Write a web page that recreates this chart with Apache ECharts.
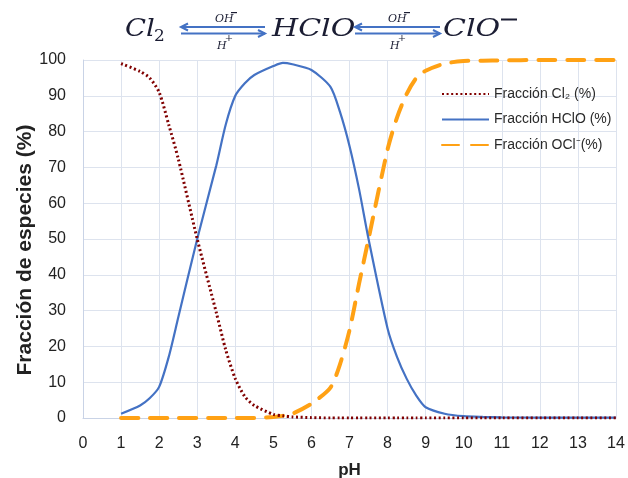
<!DOCTYPE html>
<html>
<head>
<meta charset="utf-8">
<script src="https://cdn.jsdelivr.net/npm/echarts@6/dist/echarts.min.js"></script>
<style>
html,body{margin:0;padding:0;background:#fff;}
#c{width:628px;height:478px;}
</style>
</head>
<body>
<div id="c"></div>
<script>
// ---- data ----
var phValues   = [1, 1.5, 1.75, 2, 2.25, 2.5, 3, 3.5, 3.75, 4, 4.25, 4.5, 5, 5.25, 5.5, 6, 6.5, 6.75, 7, 7.25, 7.5, 8, 8.25, 8.5, 8.75, 9, 9.5, 10, 10.5, 11, 12, 13, 14];
var cl2Values  = [99.0, 96.8, 95.0, 91.0, 82.0, 72.5, 50.0, 29.5, 19.0, 11.0, 6.0, 3.5, 1.0, 0.6, 0.3, 0.1, 0, 0, 0, 0, 0, 0, 0, 0, 0, 0, 0, 0, 0, 0, 0, 0, 0];
var hcloValues = [1.2, 3.5, 5.5, 8.7, 17.0, 28.0, 50.0, 70.5, 82.0, 90.0, 93.5, 95.8, 98.3, 99.2, 98.8, 97.2, 92.5, 85.5, 76.0, 64.0, 50.0, 25.0, 17.0, 11.0, 6.3, 3.0, 1.2, 0.5, 0.3, 0.2, 0.1, 0.1, 0.1];
var oclValues  = [0, 0, 0, 0, 0, 0, 0, 0, 0, 0, 0, 0, 0.3, 0.6, 1.2, 4.0, 8.5, 15.0, 24.5, 37.5, 50.0, 75.0, 84.0, 90.5, 94.9, 97.0, 99.0, 99.7, 99.8, 99.9, 100, 100, 100];
var xTicks = [0, 1, 2, 3, 4, 5, 6, 7, 8, 9, 10, 11, 12, 13, 14];
var yTicks = [0, 10, 20, 30, 40, 50, 60, 70, 80, 90, 100];
var seriesNames = ['Fracción Cl₂ (%)', 'Fracción HClO (%)', 'Fracción OCl⁻(%)'];

function pairs(ys) { return phValues.map(function (x, i) { return [x, ys[i]]; }); }

var chart = echarts.init(document.getElementById('c'), null, {renderer: 'canvas'});

var eqColor = '#1b1d33';
var arrowColor = '#4472C4';
var serif = '"DejaVu Serif", "Liberation Serif", serif';
var sans = '"Liberation Sans", Arial, sans-serif';

function txt(s, x, y, size, italic, align, sx) {
  return {
    type: 'text', x: x, y: y, scaleX: sx || 1,
    style: {
      text: s, fill: eqColor,
      font: (italic ? 'italic ' : '') + size + 'px ' + serif,
      align: align || 'left', verticalAlign: 'middle'
    }
  };
}
function line(pts) {
  return { type: 'polyline', shape: { points: pts }, style: { stroke: arrowColor, lineWidth: 2, fill: null } };
}
function arrows(x1, x2) {
  var yt = 27, yb = 33.5;
  return [
    line([[x1, yt], [x2, yt]]),
    line([[x1 + 7, yt - 3.5], [x1, yt], [x1 + 7, yt + 3.5]]),
    line([[x1, yb], [x2, yb]]),
    line([[x2 - 7, yb - 3.5], [x2, yb], [x2 - 7, yb + 3.5]])
  ];
}

var graphics = [].concat(
  [txt('Cl', 125, 29.5, 25, true, 'left', 1.1),
   txt('2', 154, 37, 17, false, 'left'),
   txt('HClO', 272, 29.5, 25, true, 'left', 1.2),
   txt('ClO', 443, 29.5, 25, true, 'left', 1.2),
   {type: 'rect', shape: {x: 501, y: 18.5, width: 16, height: 2}, style: {fill: eqColor}},
   txt('OH', 215, 19, 11, true, 'left'),
   txt('H', 217, 46, 11, true, 'left'),
   {type: 'rect', shape: {x: 231, y: 12, width: 6, height: 1.2}, style: {fill: eqColor}},
   txt('+', 229, 38.5, 10, false, 'center'),
   txt('OH', 388, 19, 11, true, 'left'),
   txt('H', 390, 46, 11, true, 'left'),
   {type: 'rect', shape: {x: 404, y: 12, width: 6, height: 1.2}, style: {fill: eqColor}},
   txt('+', 402, 38.5, 10, false, 'center'),
   {type: 'text', x: 25, y: 250, rotation: Math.PI / 2,
    style: {text: 'Fracción de especies (%)', font: 'bold 21px ' + sans, fill: '#222', align: 'center', verticalAlign: 'middle'}}
  ],
  arrows(181, 265),
  arrows(355, 440)
);

var option = {
  backgroundColor: '#ffffff',
  animation: false,
  graphic: graphics,
  grid: { left: 83, right: 12, top: 60, bottom: 60, containLabel: false, outerBoundsMode: 'none' },
  legend: {
    orient: 'vertical', left: 441, top: 87, padding: 0,
    itemWidth: 47, itemHeight: 14, itemGap: 11.5,
    data: seriesNames,
    itemStyle: { opacity: 0 },
    textStyle: { fontFamily: sans, fontSize: 14, color: '#2a2a2a', lineHeight: 14 }
  },
  xAxis: {
    type: 'value', min: xTicks[0], max: xTicks[xTicks.length - 1], interval: 1,
    name: 'pH', nameLocation: 'middle', nameGap: 44,
    nameTextStyle: { fontFamily: sans, fontSize: 17, fontWeight: 'bold', color: '#222' },
    axisLine: { show: true, lineStyle: { color: '#C9D3E6', width: 1 } },
    axisTick: { show: false },
    axisLabel: { fontFamily: sans, fontSize: 16, color: '#222', margin: 18 },
    splitLine: { show: true, lineStyle: { color: '#DDE3EE', width: 1 } }
  },
  yAxis: {
    type: 'value', min: yTicks[0], max: yTicks[yTicks.length - 1], interval: 10,
    axisLine: { show: true, lineStyle: { color: '#C9D3E6', width: 1 } },
    axisTick: { show: false },
    axisLabel: { fontFamily: sans, fontSize: 16, color: '#222', margin: 17, padding: [6, 0, 0, 0] },
    splitLine: { show: true, lineStyle: { color: '#DDE3EE', width: 1 } }
  },
  series: [
    {
      name: seriesNames[0], type: 'line', data: pairs(cl2Values), smooth: 0.25, symbol: 'none',
      lineStyle: { color: '#800000', width: 3, type: [2, 2.6] }, itemStyle: { color: '#800000' }, z: 4
    },
    {
      name: seriesNames[1], type: 'line', data: pairs(hcloValues), smooth: 0.25, symbol: 'none',
      lineStyle: { color: '#4472C4', width: 2.2, type: 'solid' }, itemStyle: { color: '#4472C4' }, z: 3
    },
    {
      name: seriesNames[2], type: 'line', data: pairs(oclValues), smooth: 0.25, symbol: 'none',
      lineStyle: { color: '#FFA114', width: 4, type: [17, 12], cap: 'round' }, itemStyle: { color: '#FFA114' }, z: 2
    }
  ]
};
chart.setOption(option);
</script>
</body>
</html>
